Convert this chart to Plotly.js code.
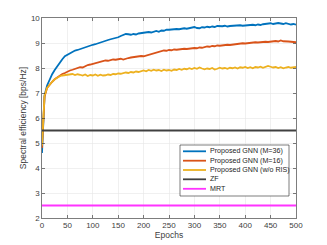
<!DOCTYPE html>
<html>
<head>
<meta charset="utf-8">
<script src="https://cdn.plot.ly/plotly-3.0.1.min.js"></script>
<style>html,body{margin:0;padding:0;background:#fff;}#chart{width:327px;height:245px;}</style>
</head>
<body>
<div id="chart"></div>
<script>
// Epochs sampled every 5 (0..500)
const epochStart = 0;
const epochStep = 5;

const gnnM36 = [4.6,6.9,7.3,7.55,7.75,7.92,8.08,8.22,8.35,8.47,8.53,8.6,8.63,8.7,8.72,8.76,8.8,8.84,8.87,8.9,
8.93,8.95,8.99,9.02,9.05,9.08,9.12,9.15,9.17,9.22,9.23,9.28,9.32,9.36,9.35,9.33,9.36,9.34,9.38,9.4,
9.41,9.43,9.44,9.42,9.46,9.48,9.45,9.5,9.49,9.53,9.53,9.55,9.54,9.56,9.55,9.58,9.59,9.57,9.6,9.62,
9.64,9.6,9.59,9.63,9.62,9.65,9.63,9.66,9.64,9.68,9.66,9.67,9.69,9.66,9.68,9.69,9.67,9.7,9.71,9.69,
9.71,9.7,9.72,9.73,9.71,9.74,9.72,9.75,9.77,9.76,9.79,9.76,9.78,9.8,9.78,9.76,9.79,9.75,9.74,9.76,9.73];

const gnnM16 = [4.8,6.85,7.2,7.35,7.45,7.55,7.62,7.7,7.76,7.8,7.86,7.9,7.93,7.97,8.0,8.03,8.02,8.08,8.12,8.14,
8.17,8.2,8.22,8.25,8.28,8.3,8.29,8.32,8.34,8.33,8.35,8.37,8.34,8.38,8.4,8.42,8.44,8.43,8.46,8.48,
8.47,8.5,8.53,8.56,8.6,8.62,8.65,8.68,8.7,8.69,8.72,8.71,8.74,8.73,8.75,8.74,8.77,8.76,8.78,8.77,
8.8,8.79,8.82,8.81,8.84,8.86,8.85,8.88,8.87,8.9,8.89,8.91,8.9,8.93,8.92,8.94,8.96,8.95,8.97,8.99,
8.98,9.0,9.02,9.01,9.03,9.02,9.04,9.03,9.05,9.04,9.06,9.05,9.08,9.06,9.1,9.07,9.08,9.06,9.05,9.04,9.03];

const gnnNoRIS = [4.9,6.9,7.2,7.35,7.45,7.55,7.62,7.67,7.7,7.72,7.74,7.73,7.76,7.72,7.75,7.73,7.7,7.74,7.68,7.72,
7.7,7.74,7.69,7.73,7.7,7.71,7.74,7.72,7.76,7.75,7.78,7.77,7.8,7.82,7.8,7.84,7.82,7.86,7.84,7.88,
7.9,7.87,7.92,7.89,7.93,7.9,7.92,7.88,7.93,7.9,7.92,7.89,7.94,7.92,7.96,7.93,7.97,7.95,7.99,7.96,
8.0,7.97,8.02,7.98,7.95,7.98,7.96,8.0,7.94,7.97,8.01,7.98,8.0,7.97,8.01,7.99,8.02,7.98,8.03,8.01,
8.04,8.0,8.03,7.99,8.04,8.02,8.05,8.01,8.04,8.08,8.05,8.02,8.04,8.0,8.03,7.99,8.02,8.04,8.01,8.03,8.04];

const zfValue = 5.5;
const mrtValue = 2.5;
const epochRange = [0, 500];

const seriesNames = ['Proposed GNN (M=36)','Proposed GNN (M=16)','Proposed GNN (w/o RIS)','ZF','MRT'];
const seriesColors = ['#0072BD','#D95319','#EDB120','#404040','#FF33FF'];

const traces = [
  {y: gnnM36, x0: epochStart, dx: epochStep, type:'scatter', mode:'lines', name: seriesNames[0], line:{color:seriesColors[0], width:1.8}},
  {y: gnnM16, x0: epochStart, dx: epochStep, type:'scatter', mode:'lines', name: seriesNames[1], line:{color:seriesColors[1], width:1.8}},
  {y: gnnNoRIS, x0: epochStart, dx: epochStep, type:'scatter', mode:'lines', name: seriesNames[2], line:{color:seriesColors[2], width:1.8}},
  {x: epochRange, y: [zfValue, zfValue], type:'scatter', mode:'lines', name: seriesNames[3], line:{color:seriesColors[3], width:1.8}},
  {x: epochRange, y: [mrtValue, mrtValue], type:'scatter', mode:'lines', name: seriesNames[4], line:{color:seriesColors[4], width:1.8}}
];

// custom compact legend (MATLAB style)
const L = 42, R = 296, T = 18, B = 218;
const px = v => (v - L) / (R - L);
const py = v => (B - v) / (B - T);
const legendShapes = [{type:'rect', xref:'paper', yref:'paper', x0:px(180), x1:px(289), y0:py(196), y1:py(145),
  line:{color:'#262626', width:0.6}, fillcolor:'#ffffff', layer:'above'}];
const legendAnn = [];
const rowY = [151.3, 160.7, 170, 179.3, 188.8];
seriesNames.forEach((n, i) => {
  legendShapes.push({type:'line', xref:'paper', yref:'paper', x0:px(183), x1:px(206), y0:py(rowY[i]), y1:py(rowY[i]),
    line:{color:seriesColors[i], width:1.8}, layer:'above'});
  legendAnn.push({xref:'paper', yref:'paper', x:px(207.5), y:py(rowY[i]), xanchor:'left', yanchor:'middle', showarrow:false,
    text:n, font:{family:'Liberation Sans, Arial, sans-serif', size:7.1, color:'#262626'}});
});

const axisCommon = {
  showline:true, mirror:'ticks', linecolor:'#262626', linewidth:0.6,
  ticks:'inside', ticklen:3, tickcolor:'#262626', tickwidth:0.6,
  showgrid:true, gridcolor:'#e6e6e6', gridwidth:0.6, zeroline:false,
  tickfont:{family:'Liberation Sans, Arial, sans-serif', size:8, color:'#404040'}
};

const layout = {
  width:327, height:245,
  margin:{l:42, r:31, t:18, b:27, pad:0},
  paper_bgcolor:'#ffffff', plot_bgcolor:'#ffffff',
  showlegend:false,
  xaxis: Object.assign({}, axisCommon, {range:[0,500], tickvals:[0,50,100,150,200,250,300,350,400,450,500],
    title:{text:'Epochs', font:{family:'Liberation Sans, Arial, sans-serif', size:8.5, color:'#404040'}, standoff:2}}),
  yaxis: Object.assign({}, axisCommon, {range:[2,10], tickvals:[2,3,4,5,6,7,8,9,10],
    title:{text:'Spectral efficiency [bps/Hz]', font:{family:'Liberation Sans, Arial, sans-serif', size:8.5, color:'#404040'}, standoff:2}}),
  shapes: legendShapes,
  annotations: legendAnn
};

Plotly.newPlot('chart', traces, layout, {staticPlot:true, displayModeBar:false});
</script>
</body>
</html>
